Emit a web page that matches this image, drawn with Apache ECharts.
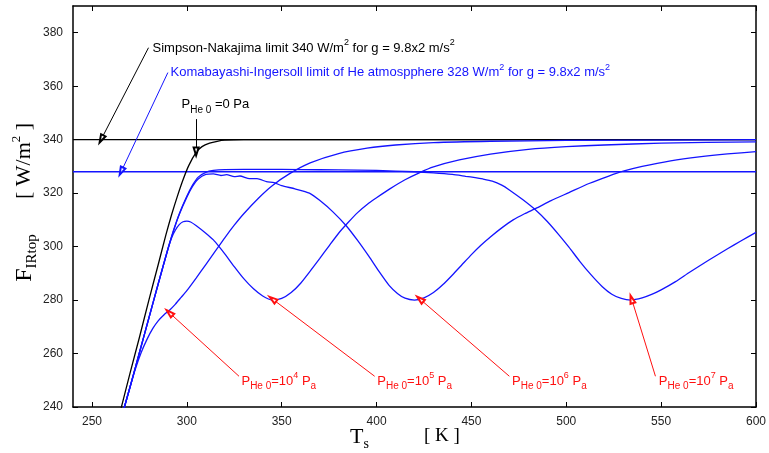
<!DOCTYPE html>
<html>
<head>
<meta charset="utf-8">
<script src="https://cdn.jsdelivr.net/npm/echarts@6/dist/echarts.min.js"></script>
<style>
html,body{margin:0;padding:0;background:#fff;}
#c{width:769px;height:453px;}
</style>
</head>
<body>
<div id="c"></div>
<script>
// ---- axis ticks ----
const xTicks = [250, 300, 350, 400, 450, 500, 550, 600];
const yTicks = [240, 260, 280, 300, 320, 340, 360, 380];

// ---- reference limits ----
const limitT = [240, 600];
const simpsonF = [340, 340];
const kiF = [328, 328];

// ---- P_He0 = 0 Pa (black) ----
const blackT = [264.8, 270, 275, 280, 285, 289, 292, 295, 298, 301, 305, 308, 312, 316, 320, 330, 600];
const blackF = [238, 252.5, 266, 280, 293.5, 304.5, 312, 318.8, 325, 330.3, 335.3, 337.4, 338.7, 339.4, 339.8, 340, 340];

// ---- P_He0 = 1e4 Pa ----
const p4T = [266.5, 270, 273, 276, 279, 282, 285, 288, 291, 294, 297, 300, 305, 310, 315, 320, 325, 330, 338, 345, 354, 365, 380, 395, 410, 430, 460, 500, 600];
const p4F = [238.5, 247.3, 254.5, 260.5, 265.3, 269.3, 272.3, 274.5, 276.3, 278.5, 281, 283.5, 288.3, 293.3, 298.3, 303.3, 308, 312.3, 318.3, 322.8, 327.2, 331.3, 334.8, 336.8, 338, 338.9, 339.4, 339.7, 340];

// ---- P_He0 = 1e5 Pa ----
const p5T = [266.5, 270, 275, 280, 285, 290, 292, 294, 296, 298, 300, 302, 305, 310, 314, 317, 320, 325, 330, 335, 340, 345, 350, 355, 360, 365, 370, 375, 380, 385, 390, 396, 400, 407, 415, 422.5, 430, 443.6, 460, 480, 500, 520, 550, 600];
const p5F = [238.5, 247.3, 260.3, 273.3, 286.3, 299, 303.3, 306.2, 308.2, 309.3, 309.5, 309.2, 307.8, 305, 302.5, 300, 297.3, 292.5, 288, 284.3, 281.5, 280, 280.6, 282.8, 286.3, 290.8, 295.5, 300.3, 305, 309, 312.7, 316.3, 318.3, 321.6, 325, 327.6, 329.8, 332.4, 334.6, 336.4, 337.4, 338, 338.7, 339.2];

// ---- P_He0 = 1e6 Pa ----
const p6T = [266.5, 270, 275, 280, 285, 290, 293, 296, 300, 303, 306, 310, 314, 318, 321, 325, 328, 333, 337, 342, 346, 350, 357, 364.6, 370, 377, 384, 390, 396, 401, 406.6, 411, 415, 420, 425, 430, 435, 440, 445, 450, 455, 460, 466, 472, 478, 484, 492, 501.4, 512, 522.4, 530, 540, 555, 570, 585, 600];
const p6F = [238.5, 247.3, 260.3, 273.3, 286.3, 299, 306, 312, 318.5, 322.5, 325.3, 327, 327.2, 326.6, 326.9, 326.2, 326.4, 325.4, 325.4, 324.3, 323.9, 322.8, 321.6, 320, 317.3, 313, 307.8, 302.3, 296.3, 291, 285.5, 282.5, 280.7, 280, 280.8, 282.8, 285.8, 289.4, 293.2, 297, 300.5, 303.6, 307, 310, 312.3, 314.3, 317.2, 320.2, 323.6, 326.4, 328.2, 330, 332.1, 333.6, 334.7, 335.5];

// ---- P_He0 = 1e7 Pa ----
const p7T = [266.5, 270, 275, 280, 285, 290, 293, 296, 300, 303, 306, 310, 314, 320, 340, 360, 380, 400, 420, 430, 440, 447, 452, 456, 461, 466, 470, 477, 484, 490, 496, 501.4, 507, 513, 519, 524, 529, 534, 540, 545, 550, 557.6, 565, 575, 585, 592, 600];
const p7F = [238.5, 247.3, 260.3, 273.3, 286.3, 299, 306, 312.2, 318.8, 323, 326, 327.8, 328.5, 328.8, 328.9, 328.8, 328.7, 328.5, 328, 327.6, 327, 326.3, 325.8, 325.3, 324.5, 323, 321.2, 317.6, 313.6, 309.4, 304.5, 299.8, 294.6, 289.5, 285, 282.2, 280.6, 280, 280.8, 282.1, 283.8, 286.9, 290.4, 294.9, 299.2, 302.1, 305.3];

// ---- annotation arrows [from T,F] -> [to T,F] ----
const arrowFrom = [[279.8, 374.4], [290.0, 365.1], [304.9, 347.7], [327.5, 251.5], [399.0, 251.5], [470.0, 251.5], [547.0, 251.5]];
const arrowTo   = [[255.0, 340.3], [265.5, 328.2], [304.9, 335.6], [290.9, 275.2], [345.3, 280.3], [423.0, 280.3], [534.5, 280.3]];
const arrowColor = ['#000', '#1414ff', '#000', '#ff1010', '#ff1010', '#ff1010', '#ff1010'];

// ---- annotation texts (anchor = left middle, data coords) ----
const noteAnchor = [[281.9, 374.3], [291.4, 365.0], [297.2, 353.0], [328.8, 249.7], [400.4, 249.7], [471.4, 249.7], [548.8, 249.7]];
const noteText = [
  '{m|Simpson-Nakajima limit 340 W/m}{sup|2}{m| for g = 9.8x2 m/s}{sup|2}',
  '{m|Komabayashi-Ingersoll limit of He atmospphere 328 W/m}{sup|2}{m| for g = 9.8x2 m/s}{sup|2}',
  '{m|P}{sub|He 0}{m| =0 Pa}',
  '{m|P}{sub|He 0}{m|=10}{sup|4}{m| P}{sub|a}',
  '{m|P}{sub|He 0}{m|=10}{sup|5}{m| P}{sub|a}',
  '{m|P}{sub|He 0}{m|=10}{sup|6}{m| P}{sub|a}',
  '{m|P}{sub|He 0}{m|=10}{sup|7}{m| P}{sub|a}'
];
const noteColor = ['#000', '#1414ff', '#000', '#ff1010', '#ff1010', '#ff1010', '#ff1010'];

const zip = (a, b) => a.map((v, i) => [v, b[i]]);
const SANS = '"Liberation Sans", Arial, Helvetica, sans-serif';
const SERIF = '"Liberation Serif", "Times New Roman", serif';
const BLUE = '#1414ff';

const chart = echarts.init(document.getElementById('c'), null, {renderer: 'canvas'});

function axisCommon(pos, showLabel, ticks, isX) {
  return {
    type: 'value', position: pos, min: 240, max: isX ? 600 : 390,
    axisLine: {show: true, onZero: false, lineStyle: {color: '#000', width: 1.5}},
    axisTick: {show: true, inside: true, length: 5, customValues: ticks, lineStyle: {color: '#000', width: 1}},
    axisLabel: showLabel ? {show: true, customValues: ticks, color: '#222', fontSize: 12, fontFamily: SANS, margin: isX ? 9 : 10} : {show: false},
    splitLine: {show: false}
  };
}

function lineSeries(name, T, F, color, width) {
  return {
    name, type: 'line', data: zip(T, F), showSymbol: false, symbol: 'none',
    smooth: 0.2,
    lineStyle: {color, width}, clip: true, animation: false, silent: true, z: 3
  };
}

const arrowData = arrowFrom.map((f, i) => [
  {coord: f, symbol: 'none', lineStyle: {color: arrowColor[i], width: 1, type: 'solid'}},
  {coord: arrowTo[i], symbol: 'emptyTriangle', symbolSize: [5, 8], lineStyle: {color: arrowColor[i], width: 1, type: 'solid'}, itemStyle: {color: arrowColor[i]}}
]);

const series = [
  Object.assign(lineSeries('simpson', limitT, simpsonF, '#000', 1.3), {
    smooth: false,
    markLine: {
      silent: true, animation: false, symbol: ['none', 'emptyTriangle'], symbolSize: 8,
      lineStyle: {type: 'solid', width: 1},
      label: {show: false}, emphasis: {disabled: true},
      data: arrowData
    }
  }),
  Object.assign(lineSeries('ki', limitT, kiF, BLUE, 1.3), {smooth: false}),
  lineSeries('p0', blackT, blackF, '#000', 1.3),
  lineSeries('p4', p4T, p4F, BLUE, 1.3),
  lineSeries('p5', p5T, p5F, BLUE, 1.3),
  lineSeries('p6', p6T, p6F, BLUE, 1.3),
  lineSeries('p7', p7T, p7F, BLUE, 1.3)
];

chart.setOption({
  animation: false,
  backgroundColor: '#fff',
  grid: {left: 73, right: 12, top: 6, bottom: 46, containLabel: false},
  xAxis: [axisCommon('bottom', true, xTicks, true), axisCommon('top', false, xTicks, true)],
  yAxis: [axisCommon('left', true, yTicks, false), axisCommon('right', false, yTicks, false)],
  series
});

// annotation texts
const graphics = noteAnchor.map((a, i) => {
  const p = chart.convertToPixel({gridIndex: 0}, a);
  return {
    type: 'text', x: p[0], y: p[1], z: 10, silent: true,
    style: {
      text: noteText[i], fill: noteColor[i], verticalAlign: 'middle', align: 'left',
      rich: {
        m: {fontSize: 13, fontFamily: SANS, fill: noteColor[i], lineHeight: 20},
        sup: {fontSize: 9, fontFamily: SANS, fill: noteColor[i], lineHeight: 9, verticalAlign: 'top'},
        sub: {fontSize: 10, fontFamily: SANS, fill: noteColor[i], lineHeight: 10, verticalAlign: 'bottom'}
      }
    }
  };
});

// axis titles
graphics.push({
  type: 'text', x: 25, y: 258, rotation: Math.PI / 2, silent: true,
  style: {
    text: '{F|F}{s|IRtop}', align: 'center', verticalAlign: 'middle', fill: '#000',
    rich: {
      F: {fontSize: 24, fontFamily: SERIF, fill: '#000', lineHeight: 30},
      s: {fontSize: 15, fontFamily: SERIF, fill: '#000', lineHeight: 15, verticalAlign: 'bottom'}
    }
  }
});
graphics.push({
  type: 'text', x: 24, y: 161, rotation: Math.PI / 2, silent: true,
  style: {
    text: '{b|[ W/m}{sup|2}{b| ]}', align: 'center', verticalAlign: 'middle', fill: '#000',
    rich: {
      b: {fontSize: 22, fontFamily: SERIF, fill: '#000', lineHeight: 28},
      sup: {fontSize: 13, fontFamily: SERIF, fill: '#000', lineHeight: 13, verticalAlign: 'top'}
    }
  }
});
graphics.push({
  type: 'text', x: 350, y: 437, silent: true,
  style: {
    text: '{T|T}{s|s}', align: 'left', verticalAlign: 'middle', fill: '#000',
    rich: {
      T: {fontSize: 22, fontFamily: SERIF, fill: '#000', lineHeight: 28},
      s: {fontSize: 14, fontFamily: SERIF, fill: '#000', lineHeight: 14, verticalAlign: 'bottom'}
    }
  }
});
graphics.push({
  type: 'text', x: 424, y: 436, silent: true,
  style: {
    text: '[ K ]', align: 'left', verticalAlign: 'middle', fill: '#000',
    fontSize: 19, fontFamily: SERIF
  }
});

chart.setOption({graphic: graphics});
</script>
</body>
</html>
